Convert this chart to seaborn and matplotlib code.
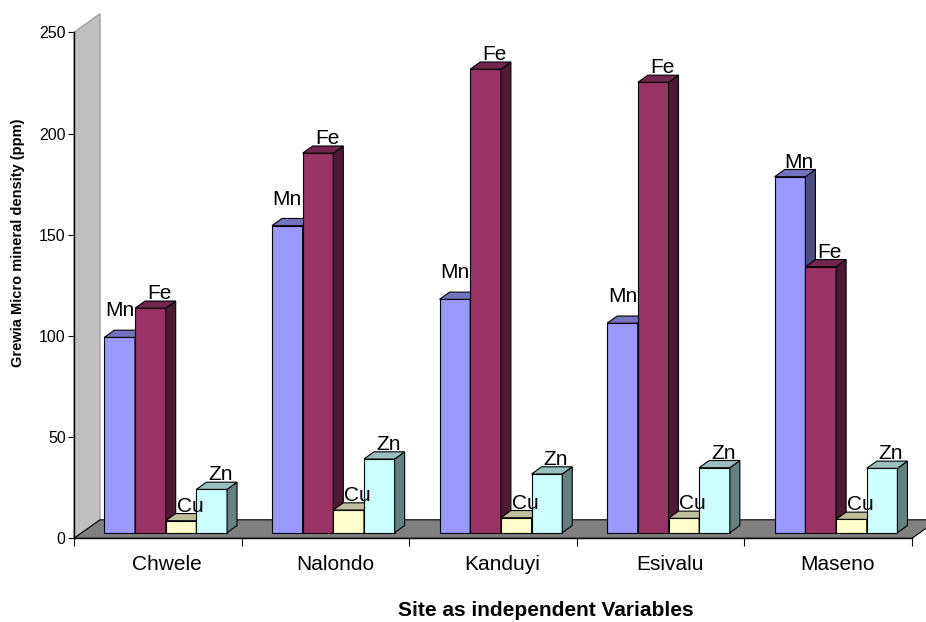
import numpy as np
import pandas as pd
import matplotlib
matplotlib.use("Agg")
import matplotlib.pyplot as plt
import seaborn as sns
from matplotlib.patches import Polygon
from matplotlib.transforms import ScaledTranslation, IdentityTransform
from matplotlib.colors import to_rgb

# ---- data -------------------------------------------------------------
sites = ["Chwele", "Nalondo", "Kanduyi", "Esivalu", "Maseno"]
minerals = ["Mn", "Fe", "Cu", "Zn"]
mn_ppm = [96.5, 151.7, 115.3, 103.5, 175.9]
fe_ppm = [110.9, 187.5, 229.0, 222.5, 131.4]
cu_ppm = [5.9, 11.2, 7.4, 7.1, 6.6]
zn_ppm = [21.4, 36.4, 29.0, 32.1, 31.8]
y_ticks = [0, 50, 100, 150, 200, 250]
front_colors = ["#9999FF", "#993366", "#FFFFCC", "#CCFFFF"]

df = pd.DataFrame({
    "Site": sites * len(minerals),
    "Mineral": np.repeat(minerals, len(sites)),
    "ppm": mn_ppm + fe_ppm + cu_ppm + zn_ppm,
})

# ---- style ------------------------------------------------------------
sns.set_style("white")
plt.rcParams["font.family"] = ["Liberation Sans", "DejaVu Sans"]
plt.rcParams.update({
    "text.color": "black",
    "axes.labelcolor": "black",
    "xtick.color": "black",
    "ytick.color": "black",
})

W, H, DPI = 926, 622, 100
fig = plt.figure(figsize=(W / DPI, H / DPI), dpi=DPI)
ax_left, ax_right, ax_top, ax_bot = 74, 912, 32.3, 538.3
ax = fig.add_axes([ax_left / W, 1 - ax_bot / H,
                   (ax_right - ax_left) / W, (ax_bot - ax_top) / H])
ax.patch.set_visible(False)

sns.barplot(data=df, x="Site", y="ppm", hue="Mineral", order=sites,
            hue_order=minerals, palette=front_colors, width=0.732, gap=0,
            saturation=1, edgecolor="black", linewidth=0.8, errorbar=None,
            legend=False, ax=ax)

ax.set_xlim(-0.5, len(sites) - 0.5)
ax.set_ylim(0, 250)
ax.set_xlabel("")
ax.set_ylabel("")

# 3-D projection offsets in pixels (display coords, y upwards)
WALL_D = np.array([26.0, 18.5])     # full depth of floor / wall
BAR_OFF = np.array([7.9, 5.6])      # front face of the columns
BAR_D = np.array([10.0, 7.2])       # depth of each column

tD = ax.transData
ident = IdentityTransform()

def shade(c, f):
    r, g, b = to_rgb(c)
    return (r * f, g * f, b * f)

# side wall and floor
fl = tD.transform((-0.5, 0))
fr = tD.transform((len(sites) - 0.5, 0))
wt = tD.transform((-0.5, 250))
wall = Polygon([fl, wt, wt + WALL_D, fl + WALL_D], closed=True,
               facecolor="#C0C0C0", edgecolor="#A0A0A0", lw=1.0,
               transform=ident, clip_on=False, zorder=0.8)
floor = Polygon([fl, fr, fr + WALL_D, fl + WALL_D], closed=True,
                facecolor="#808080", edgecolor="black", lw=0.8,
                transform=ident, clip_on=False, zorder=0.9)
ax.add_patch(wall)
ax.add_patch(floor)

# columns: shift front faces and add top / side faces
bars = []
for mi, cont in enumerate(ax.containers):
    for si, p in enumerate(cont.patches):
        bars.append((p.get_x(), mi, si, p))
bars.sort(key=lambda t: t[0])

heights = {(mi, si): p.get_height() for _, mi, si, p in bars}
shift = ScaledTranslation(BAR_OFF[0] / DPI, BAR_OFF[1] / DPI, fig.dpi_scale_trans)

for rank, (x0, mi, si, p) in enumerate(bars):
    z = 3 + rank * 0.01
    x1 = x0 + p.get_width()
    h = p.get_height()
    b0 = tD.transform((x0, 0)) + BAR_OFF
    b1 = tD.transform((x1, 0)) + BAR_OFF
    t0 = tD.transform((x0, h)) + BAR_OFF
    t1 = tD.transform((x1, h)) + BAR_OFF
    p.set_transform(tD + shift)
    p.set_clip_on(False)
    p.set_zorder(z)
    col = front_colors[mi]
    side = Polygon([b1, t1, t1 + BAR_D, b1 + BAR_D], closed=True,
                   facecolor=shade(col, 0.5), edgecolor="black", lw=0.8,
                   transform=ident, clip_on=False, zorder=z + 0.003)
    top = Polygon([t0, t1, t1 + BAR_D, t0 + BAR_D], closed=True,
                  facecolor=shade(col, 0.75), edgecolor="black", lw=0.8,
                  transform=ident, clip_on=False, zorder=z + 0.006)
    ax.add_patch(side)
    ax.add_patch(top)

    # series-name label above the column
    cx = (t0[0] + t1[0]) / 2
    nxt = heights.get((mi + 1, si))
    if minerals[mi] == "Mn" and nxt is not None and nxt > h:
        lx, ly = cx, t0[1] + 21
    else:
        lx, ly = cx + 9, t0[1] + 9
    ax.text(lx, ly, minerals[mi], transform=ident, ha="center",
            va="baseline", fontsize=15, color="black", zorder=10)

# axes, ticks and labels
for s in ["top", "right"]:
    ax.spines[s].set_visible(False)
for s in ["left", "bottom"]:
    ax.spines[s].set_color("black")
    ax.spines[s].set_linewidth(1.0)
    ax.spines[s].set_zorder(1.5)

ax.set_yticks(y_ticks)
ax.tick_params(axis="y", direction="out", length=4.5, width=0.8,
               color="black", labelcolor="black", labelsize=11.5, pad=1.5,
               left=True)
ax.set_xticks(range(len(sites)))
ax.set_xticklabels(sites)
ax.set_xticks(np.arange(-0.5, len(sites)), minor=True)
ax.tick_params(axis="x", which="major", length=0, labelsize=15, pad=12,
               labelcolor="black")
ax.tick_params(axis="x", which="minor", direction="out", length=6,
               width=0.8, color="black", bottom=True)
lab_shift = ScaledTranslation(9.5 / DPI, 0, fig.dpi_scale_trans)
for lbl in ax.get_xticklabels():
    lbl.set_transform(lbl.get_transform() + lab_shift)

fig.text(18 / W, 1 - 243 / H, "Grewia Micro mineral density (ppm)",
         rotation=90, ha="center", va="center", fontsize=10.5,
         fontweight="bold", color="black")
fig.text(546 / W, 1 - 610 / H, "Site as independent Variables",
         ha="center", va="center", fontsize=15, fontweight="bold",
         color="black")

fig.savefig("out.png", dpi=DPI, facecolor="white")
